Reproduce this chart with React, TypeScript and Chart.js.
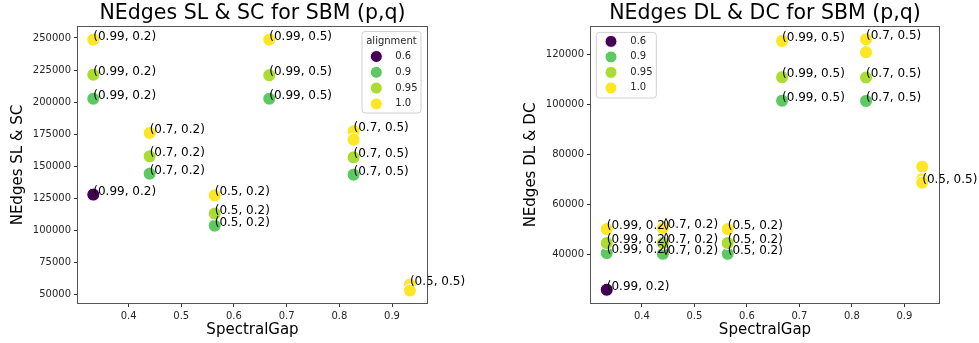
import React, { useEffect, useRef } from "react";
import { Chart, registerables } from "chart.js";

Chart.register(...registerables);

const FONT = "'DejaVu Sans', Verdana, sans-serif";

// ---- data ----
const ALIGNMENTS = [0.6, 0.9, 0.95, 1.0];
const ALIGNMENT_LABELS = ["0.6", "0.9", "0.95", "1.0"];
const ALIGNMENT_COLORS = ["#440154", "#5ec962", "#aadc32", "#fde725"];

const X_TICKS = [0.4, 0.5, 0.6, 0.7, 0.8, 0.9];
const X_TICK_LABELS = ["0.4", "0.5", "0.6", "0.7", "0.8", "0.9"];

const SL_Y_TICKS = [50000, 75000, 100000, 125000, 150000, 175000, 200000, 225000, 250000];
const DC_Y_TICKS = [40000, 60000, 80000, 100000, 120000];

const SL_X = [0.333, 0.333, 0.333, 0.333, 0.44, 0.44, 0.44, 0.5635, 0.5635, 0.5635, 0.667, 0.667, 0.667, 0.827, 0.827, 0.827, 0.827, 0.934, 0.934];
const SL_Y = [248700, 221400, 202700, 128000, 176000, 157800, 144300, 127400, 113200, 103800, 248700, 221000, 202700, 177300, 170800, 157000, 143500, 57900, 53200];
const SL_ALIGN = [1.0, 0.95, 0.9, 0.6, 1.0, 0.95, 0.9, 1.0, 0.95, 0.9, 1.0, 0.95, 0.9, 1.0, 1.0, 0.95, 0.9, 1.0, 1.0];
const SL_LABEL = ["(0.99, 0.2)", "(0.99, 0.2)", "(0.99, 0.2)", "(0.99, 0.2)", "(0.7, 0.2)", "(0.7, 0.2)", "(0.7, 0.2)", "(0.5, 0.2)", "(0.5, 0.2)", "(0.5, 0.2)", "(0.99, 0.5)", "(0.99, 0.5)", "(0.99, 0.5)", "(0.7, 0.5)", "", "(0.7, 0.5)", "(0.7, 0.5)", "(0.5, 0.5)", ""];

const DC_X = [0.333, 0.333, 0.333, 0.333, 0.44, 0.44, 0.44, 0.5635, 0.5635, 0.5635, 0.667, 0.667, 0.667, 0.827, 0.827, 0.827, 0.827, 0.934, 0.934, 0.934];
const DC_Y = [50000, 44400, 40400, 25700, 50400, 44400, 40100, 50000, 44400, 40100, 125300, 110800, 101400, 126000, 120800, 110700, 101300, 75000, 70000, 68600];
const DC_ALIGN = [1.0, 0.95, 0.9, 0.6, 1.0, 0.95, 0.9, 1.0, 0.95, 0.9, 1.0, 0.95, 0.9, 1.0, 1.0, 0.95, 0.9, 1.0, 1.0, 1.0];
const DC_LABEL = ["(0.99, 0.2)", "(0.99, 0.2)", "(0.99, 0.2)", "(0.99, 0.2)", "(0.7, 0.2)", "(0.7, 0.2)", "(0.7, 0.2)", "(0.5, 0.2)", "(0.5, 0.2)", "(0.5, 0.2)", "(0.99, 0.5)", "(0.99, 0.5)", "(0.99, 0.5)", "(0.7, 0.5)", "", "(0.7, 0.5)", "(0.7, 0.5)", "", "", "(0.5, 0.5)"];

type LegendSpec = {
  anchor: "left" | "right";
  dx: number;
  dy: number;
  w: number;
  h: number;
  title: string;
  titleDy: number;
  rowStart: number;
  rowGap: number;
  markerDx: number;
  textDx: number;
};

type PanelSpec = {
  title: string;
  yTitle: string;
  xs: number[];
  ys: number[];
  aligns: number[];
  labels: string[];
  yTicks: number[];
  xMin: number;
  xMax: number;
  yMin: number;
  yMax: number;
  yAxisWidth: number;
  padRight: number;
  yTitlePad: number;
  legend: LegendSpec;
};

const SL_SPEC: PanelSpec = {
  title: "NEdges SL & SC for SBM (p,q)",
  yTitle: "NEdges SL & SC",
  xs: SL_X,
  ys: SL_Y,
  aligns: SL_ALIGN,
  labels: SL_LABEL,
  yTicks: SL_Y_TICKS,
  xMin: 0.304,
  xMax: 0.9664,
  yMin: 43540,
  yMax: 258570,
  yAxisWidth: 78,
  padRight: 63,
  yTitlePad: 9,
  legend: { anchor: "right", dx: 6, dy: 4.5, w: 59, h: 81.5, title: "alignment", titleDy: 10, rowStart: 25, rowGap: 15.8, markerDx: 14.3, textDx: 33.3 },
};

const DC_SPEC: PanelSpec = {
  title: "NEdges DL & DC for SBM (p,q)",
  yTitle: "NEdges DL & DC",
  xs: DC_X,
  ys: DC_Y,
  aligns: DC_ALIGN,
  labels: DC_LABEL,
  yTicks: DC_Y_TICKS,
  xMin: 0.303,
  xMax: 0.966,
  yMin: 20400,
  yMax: 130920,
  yAxisWidth: 101,
  padRight: 40,
  yTitlePad: 32,
  legend: { anchor: "left", dx: 5.3, dy: 5.4, w: 60, h: 65.6, title: "", titleDy: 0, rowStart: 9, rowGap: 15.5, markerDx: 14.7, textDx: 34 },
};

function buildConfig(spec: PanelSpec): any {
  const datasets = ALIGNMENTS.map((a, i) => {
    const data: any[] = [];
    spec.xs.forEach((x, j) => {
      if (spec.aligns[j] === a) data.push({ x, y: spec.ys[j], lbl: spec.labels[j] });
    });
    return {
      label: ALIGNMENT_LABELS[i],
      data,
      backgroundColor: ALIGNMENT_COLORS[i],
      borderColor: "#ffffff",
      borderWidth: 1,
      pointRadius: 6.5,
      pointHoverRadius: 6.5,
      order: ALIGNMENTS.length - i,
    };
  });

  const tickFont = { family: FONT, size: 10 };
  const gridCfg = { display: true, drawOnChartArea: false, drawTicks: true, tickLength: 4, color: "#333333", lineWidth: 1 };

  const pointLabels = {
    id: "pointLabels",
    afterDatasetsDraw(chart: any) {
      const ctx = chart.ctx;
      ctx.save();
      ctx.font = `12px ${FONT}`;
      ctx.fillStyle = "#000000";
      ctx.textAlign = "left";
      ctx.textBaseline = "alphabetic";
      chart.data.datasets.forEach((ds: any, di: number) => {
        const meta = chart.getDatasetMeta(di);
        meta.data.forEach((el: any, j: number) => {
          const raw = ds.data[j];
          if (raw && raw.lbl) ctx.fillText(raw.lbl, el.x, el.y);
        });
      });
      ctx.restore();
    },
  };

  const frameAndDecor = {
    id: "frameAndDecor",
    afterDraw(chart: any) {
      const ctx = chart.ctx;
      const { left, right, top, bottom } = chart.chartArea;
      ctx.save();
      // spines
      ctx.strokeStyle = "#555555";
      ctx.lineWidth = 1;
      const x0 = Math.round(left) - 0.5;
      const x1 = Math.round(right) + 0.5;
      const y0 = Math.round(top) - 0.5;
      const y1 = Math.round(bottom) + 0.5;
      ctx.strokeRect(x0, y0, x1 - x0, y1 - y0);
      // title
      ctx.font = `20.5px ${FONT}`;
      ctx.fillStyle = "#000000";
      ctx.textAlign = "center";
      ctx.textBaseline = "middle";
      ctx.fillText(spec.title, (left + right) / 2, 14);
      // legend
      const lg = spec.legend;
      const bx = lg.anchor === "right" ? right - lg.dx - lg.w : left + lg.dx;
      const by = top + lg.dy;
      ctx.beginPath();
      const r = 3;
      ctx.moveTo(bx + r, by);
      ctx.lineTo(bx + lg.w - r, by);
      ctx.quadraticCurveTo(bx + lg.w, by, bx + lg.w, by + r);
      ctx.lineTo(bx + lg.w, by + lg.h - r);
      ctx.quadraticCurveTo(bx + lg.w, by + lg.h, bx + lg.w - r, by + lg.h);
      ctx.lineTo(bx + r, by + lg.h);
      ctx.quadraticCurveTo(bx, by + lg.h, bx, by + lg.h - r);
      ctx.lineTo(bx, by + r);
      ctx.quadraticCurveTo(bx, by, bx + r, by);
      ctx.closePath();
      ctx.fillStyle = "rgba(255,255,255,0.85)";
      ctx.fill();
      ctx.strokeStyle = "#d0d0d0";
      ctx.stroke();
      ctx.font = `10px ${FONT}`;
      ctx.fillStyle = "#262626";
      if (lg.title) {
        ctx.textAlign = "center";
        ctx.fillText(lg.title, bx + lg.w / 2, by + lg.titleDy);
      }
      ALIGNMENT_LABELS.forEach((lab, i) => {
        const cy = by + lg.rowStart + i * lg.rowGap;
        ctx.beginPath();
        ctx.arc(bx + lg.markerDx, cy, 6, 0, Math.PI * 2);
        ctx.fillStyle = ALIGNMENT_COLORS[i];
        ctx.fill();
        ctx.strokeStyle = "#ffffff";
        ctx.lineWidth = 1;
        ctx.stroke();
        ctx.fillStyle = "#262626";
        ctx.textAlign = "left";
        ctx.fillText(lab, bx + lg.textDx, cy);
      });
      ctx.restore();
    },
  };

  return {
    type: "scatter",
    data: { datasets },
    options: {
      animation: false,
      responsive: false,
      events: [],
      layout: { autoPadding: false, padding: { top: 27, right: spec.padRight, left: 0, bottom: 0 } },
      plugins: { legend: { display: false }, tooltip: { enabled: false }, title: { display: false } },
      scales: {
        x: {
          type: "linear",
          min: spec.xMin,
          max: spec.xMax,
          afterBuildTicks: (s: any) => {
            s.ticks = X_TICKS.map((v) => ({ value: v }));
          },
          afterFit: (s: any) => {
            s.height = 40;
          },
          ticks: {
            callback: (_v: any, idx: number) => X_TICK_LABELS[idx],
            font: tickFont,
            color: "#262626",
            padding: 3,
            maxRotation: 0,
            autoSkip: false,
          },
          grid: gridCfg,
          border: { display: false },
          title: { display: true, text: "SpectralGap", font: { family: FONT, size: 15 }, color: "#000000", padding: { top: 0, bottom: 4 } },
        },
        y: {
          type: "linear",
          min: spec.yMin,
          max: spec.yMax,
          afterBuildTicks: (s: any) => {
            s.ticks = spec.yTicks.map((v) => ({ value: v }));
          },
          afterFit: (s: any) => {
            s.width = spec.yAxisWidth;
          },
          ticks: {
            callback: (_v: any, idx: number) => String(spec.yTicks[idx]),
            font: tickFont,
            color: "#262626",
            padding: 3,
            autoSkip: false,
          },
          grid: gridCfg,
          border: { display: false },
          title: { display: true, text: spec.yTitle, font: { family: FONT, size: 15 }, color: "#000000", padding: { top: spec.yTitlePad, bottom: 0 } },
        },
      },
    },
    plugins: [pointLabels, frameAndDecor],
  };
}

function Panel({ spec, left, width }: { spec: PanelSpec; left: number; width: number }) {
  const ref = useRef<HTMLCanvasElement | null>(null);
  useEffect(() => {
    if (!ref.current) return;
    const chart = new Chart(ref.current, buildConfig(spec));
    return () => chart.destroy();
  }, [spec]);
  return (
    <canvas
      ref={ref}
      width={width}
      height={343}
      style={{ position: "absolute", left, top: 0, width, height: 343, display: "block" }}
    />
  );
}

export default function App() {
  return (
    <div style={{ position: "fixed", left: 0, top: 0, width: 979, height: 343, background: "#ffffff", overflow: "hidden" }}>
      <Panel spec={SL_SPEC} left={0} width={490} />
      <Panel spec={DC_SPEC} left={490} width={489} />
    </div>
  );
}
